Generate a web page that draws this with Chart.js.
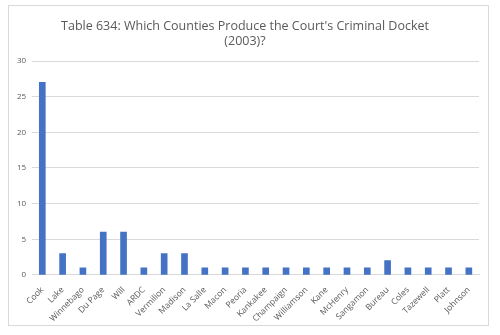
<!DOCTYPE html>
<html><head><meta charset="utf-8">
<script src="https://cdn.jsdelivr.net/npm/chart.js@4"></script>
<style>
html,body{margin:0;padding:0;background:#fff;}
#wrap{position:absolute;left:8px;top:5px;width:481px;height:321px;border:1px solid #d9d9d9;box-sizing:border-box;}
canvas{position:absolute;left:0;top:0;}
</style></head>
<body>
<div id="wrap"><canvas id="c" width="481" height="321"></canvas></div>
<script>
const titleLines = ["Table 634: Which Counties Produce the Court's Criminal Docket", "(2003)?"];
const counties = ["Cook","Lake","Winnebago","Du Page","Will","ARDC","Vermilion","Madison","La Salle","Macon","Peoria","Kankakee","Champaign","Williamson","Kane","McHenry","Sangamon","Bureau","Coles","Tazewell","Platt","Johnson"];
const cases = [27,3,1,6,6,1,3,3,1,1,1,1,1,1,1,1,1,2,1,1,1,1];
const yTicks = [0,5,10,15,20,25,30];

new Chart(document.getElementById('c'), {
  type: 'bar',
  data: { labels: counties, datasets: [{ data: cases, backgroundColor: '#4472C4', barThickness: 6 }] },
  options: {
    responsive: false, animation: false,
    layout: { padding: { left: 2, right: 11, top: 4, bottom: 1 } },
    plugins: {
      legend: { display: false },
      tooltip: { enabled: false },
      title: { display: true, text: titleLines, color: '#595959',
        font: { family: 'Open Sans', size: 12.5, weight: 'normal' }, padding: { top: 9, bottom: 12 }, lineHeight: 1.45 }
    },
    scales: {
      x: {
        grid: { display: false }, border: { display: true, color: '#d9d9d9' },
        ticks: { color: '#595959', font: { family: 'Open Sans', size: 8.5 }, minRotation: 45, maxRotation: 45, autoSkip: false, padding: 2 }
      },
      y: {
        min: 0, max: 30,
        afterBuildTicks: s => { s.ticks = yTicks.map(v => ({ value: v })); },
        grid: { color: '#d9d9d9', drawTicks: false }, border: { display: false },
        ticks: { color: '#595959', font: { family: 'Open Sans', size: 8 }, padding: 6 }
      }
    }
  }
});
</script>
</body></html>
